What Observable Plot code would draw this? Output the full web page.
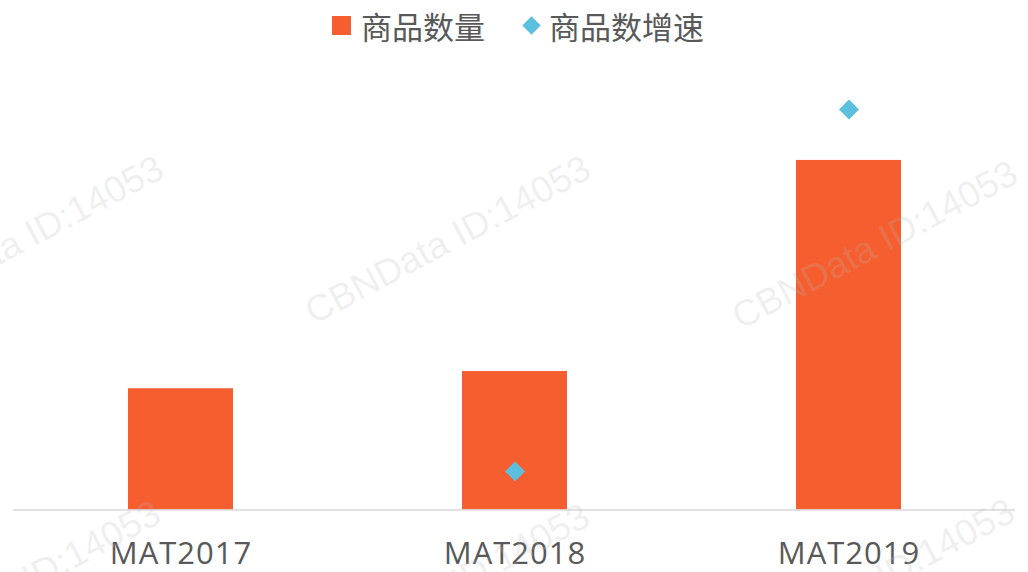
<!DOCTYPE html>
<html>
<head>
<meta charset="utf-8">
<script src="https://cdn.jsdelivr.net/npm/d3@7"></script>
<script src="https://cdn.jsdelivr.net/npm/@observablehq/plot@0.6"></script>
<style>
  html, body { margin: 0; padding: 0; background: #ffffff; }
  #wrap { position: relative; width: 1028px; height: 572px; overflow: hidden; font-family: "Open Sans", "Noto Sans CJK SC", sans-serif; }
  .wm { position: absolute; white-space: nowrap; font-family: "Liberation Sans", Arial, sans-serif; font-size: 37px; color: rgba(185,185,185,0.22); transform: translate(-50%, -50%) rotate(-28deg); z-index: 2; pointer-events: none; }
  #legend { position: relative; z-index: 1; height: 58px; display: flex; align-items: center; justify-content: center; padding-left: 8px; padding-bottom: 7px; box-sizing: border-box; font-family: "Noto Sans CJK SC", sans-serif; font-size: 31px; color: #595959; }
  .sw-sq { width: 19px; height: 19px; background: #F65E2F; margin-right: 10px; }
  .sw-di { width: 13px; height: 13px; background: #5BC0DE; transform: rotate(45deg); margin-left: 40px; margin-right: 11px; }
  #chart { position: relative; z-index: 1; }
  #chart svg g[aria-label="x-axis tick label"] text { letter-spacing: 1px; }
</style>
</head>
<body>
<div id="wrap">
  <div id="legend"></div>
  <div id="chart"></div>
</div>
<script>
// Data
const categories = ["MAT2017", "MAT2018", "MAT2019"];
const productCount = [1.214, 1.387, 3.5];          // 商品数量 (relative units, primary axis)
const productGrowth = [null, 0.145, 1.504];         // 商品数增速 (secondary axis)
const seriesNames = ["商品数量", "商品数增速"];
const watermarkText = "CBNData ID:14053";

const yMax = 4;      // primary axis max
const y2Max = 1.5;   // secondary axis max (150%)

const barData = categories.map((c, i) => ({cat: c, value: productCount[i]}));
const growthData = categories.map((c, i) => ({cat: c, growth: productGrowth[i]}))
  .filter(d => d.growth != null);

// Legend
const legend = document.getElementById("legend");
legend.innerHTML =
  `<div class="sw-sq"></div><span>${seriesNames[0]}</span>` +
  `<div class="sw-di"></div><span>${seriesNames[1]}</span>`;

// Watermarks (decoration overlay)
const wrap = document.getElementById("wrap");
const wmCenters = [[21, 240], [448, 240], [875, 245], [18, 585], [447, 588], [872, 583]];
for (const [x, y] of wmCenters) {
  const d = document.createElement("div");
  d.className = "wm";
  d.textContent = watermarkText;
  d.style.left = x + "px";
  d.style.top = y + "px";
  wrap.appendChild(d);
}

const chart = Plot.plot({
  width: 1028,
  height: 514,
  marginLeft: 13,
  marginRight: 13,
  marginTop: 52,
  marginBottom: 62.5,
  style: {background: "transparent", fontFamily: "'Open Sans', sans-serif"},
  x: {domain: categories, paddingInner: 0.686, paddingOuter: 0.343, label: null},
  y: {domain: [0, yMax], axis: null},
  marks: [
    Plot.barY(barData, {x: "cat", y: "value", fill: "#F65E2F"}),
    Plot.ruleY([0], {stroke: "#d9d9d9", strokeWidth: 1.5}),
    Plot.dot(growthData, {
      x: "cat",
      y: d => d.growth / y2Max * yMax,
      symbol: "diamond2",
      r: 9,
      fill: "#5BC0DE",
      stroke: "none"
    }),
    Plot.axisX({
      tickSize: 0,
      tickPadding: 32,
      fontSize: 31,
      fill: "#595959",
      label: null
    })
  ]
});
document.getElementById("chart").appendChild(chart);
</script>
</body>
</html>
